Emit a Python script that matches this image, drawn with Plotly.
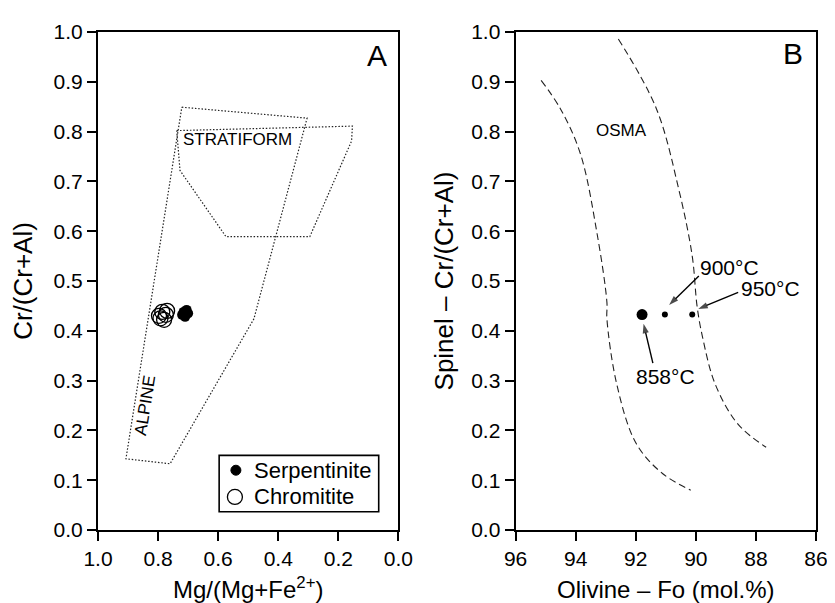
import plotly.graph_objects as go

# ---------------- data ----------------
# Panel A fields (Mg#, Cr#)
alpine_x = [0.721, 0.304, 0.481, 0.760, 0.907, 0.721]
alpine_y = [0.849, 0.827, 0.424, 0.133, 0.143, 0.849]
strat_x = [0.738, 0.153, 0.156, 0.295, 0.574, 0.727, 0.738]
strat_y = [0.802, 0.811, 0.781, 0.589, 0.589, 0.722, 0.802]

serp_x = [0.720, 0.715, 0.710, 0.705, 0.700, 0.712]
serp_y = [0.432, 0.438, 0.428, 0.442, 0.435, 0.436]
chrom_x = [0.797, 0.792, 0.786, 0.780, 0.774, 0.770]
chrom_y = [0.430, 0.425, 0.438, 0.422, 0.432, 0.440]

legend_names = ["Serpentinite", "Chromitite"]

# Panel B OSMA boundaries (Fo, Cr#)
osma_left_x = [95.15, 94.5, 93.84, 93.29, 92.96, 92.96, 92.63, 91.98, 91.10, 90.17]
osma_left_y = [0.903, 0.845, 0.755, 0.596, 0.457, 0.424, 0.292, 0.173, 0.113, 0.080]
osma_right_x = [92.58, 91.32, 90.56, 90.12, 89.96, 89.79, 89.35, 88.59, 87.66]
osma_right_y = [0.986, 0.847, 0.682, 0.550, 0.450, 0.391, 0.292, 0.212, 0.166]

sample_fo = [91.79]
sample_cr = [0.4325]
temp_fo = [91.03, 90.12]
temp_cr = [0.4325, 0.4325]

temp_labels = ["900°C", "950°C", "858°C"]
label_fo = [88.89, 87.52, 91.00]
label_cr = [0.528, 0.484, 0.3075]
arrow_tail_fo = [89.90, 88.59, 91.43]
arrow_tail_cr = [0.510, 0.477, 0.335]
arrow_tip_fo = [90.89, 89.92, 91.74]
arrow_tip_cr = [0.452, 0.444, 0.414]

FONT = "Liberation Sans, Arial, Helvetica, sans-serif"

fig = go.Figure()

poly_line = dict(color="#222222", width=1.2, dash="1.5px,1.8px")
fig.add_trace(go.Scatter(x=alpine_x, y=alpine_y, mode="lines", line=poly_line,
                         showlegend=False, hoverinfo="skip", xaxis="x", yaxis="y"))
fig.add_trace(go.Scatter(x=strat_x, y=strat_y, mode="lines", line=poly_line,
                         showlegend=False, hoverinfo="skip", xaxis="x", yaxis="y"))
fig.add_trace(go.Scatter(x=serp_x, y=serp_y, mode="markers", name=legend_names[0],
                         marker=dict(symbol="circle", size=10, color="black"),
                         showlegend=False, xaxis="x", yaxis="y"))
fig.add_trace(go.Scatter(x=chrom_x, y=chrom_y, mode="markers", name=legend_names[1],
                         marker=dict(symbol="circle-open", size=15, color="black",
                                     line=dict(width=1.3, color="black")),
                         showlegend=False, xaxis="x", yaxis="y"))

dash_line = dict(color="#222222", width=1.1, dash="7px,4px")
fig.add_trace(go.Scatter(x=osma_left_x, y=osma_left_y, mode="lines", line=dict(shape="spline", **dash_line),
                         showlegend=False, hoverinfo="skip", xaxis="x2", yaxis="y2"))
fig.add_trace(go.Scatter(x=osma_right_x, y=osma_right_y, mode="lines", line=dict(shape="spline", **dash_line),
                         showlegend=False, hoverinfo="skip", xaxis="x2", yaxis="y2"))
fig.add_trace(go.Scatter(x=sample_fo, y=sample_cr, mode="markers",
                         marker=dict(size=11, color="black"),
                         showlegend=False, xaxis="x2", yaxis="y2"))
fig.add_trace(go.Scatter(x=temp_fo, y=temp_cr, mode="markers",
                         marker=dict(size=6, color="black"),
                         showlegend=False, xaxis="x2", yaxis="y2"))

# arrows: line from tail to tip with an arrow-head marker oriented along the line
for i in range(len(temp_labels)):
    fig.add_trace(go.Scatter(
        x=[arrow_tail_fo[i], arrow_tip_fo[i]], y=[arrow_tail_cr[i], arrow_tip_cr[i]],
        mode="lines+markers", line=dict(color="black", width=1.4),
        marker=dict(symbol="arrow", size=[0, 10], angleref="previous", color="black",
                    line=dict(width=0)),
        showlegend=False, hoverinfo="skip", xaxis="x2", yaxis="y2"))

axis_common = dict(showline=True, linecolor="black", linewidth=2, mirror=True,
                   ticks="outside", ticklen=9, tickwidth=2, tickcolor="black",
                   showgrid=False, zeroline=False,
                   tickfont=dict(family=FONT, size=21, color="black"))
xtitle_font = dict(family=FONT, size=24, color="black")
ytitle_font = dict(family=FONT, size=26, color="black")

fig.update_layout(
    width=835, height=603,
    margin=dict(l=90, r=16, t=23, b=76),
    paper_bgcolor="white", plot_bgcolor="white",
    font=dict(family=FONT, color="black"),
    xaxis=dict(domain=[0, 0.4184], range=[1.0, 0.0], dtick=0.2, tickformat=".1f",
               title=dict(text="Mg/(Mg+Fe<sup>2+</sup>)", standoff=12, font=xtitle_font),
               anchor="y", **axis_common),
    yaxis=dict(domain=[0, 1], range=[0, 1.0], dtick=0.1, tickformat=".1f",
               title=dict(text="Cr/(Cr+Al)", standoff=15, font=ytitle_font),
               anchor="x", **axis_common),
    xaxis2=dict(domain=[0.5816, 1], range=[96, 86], dtick=2,
                title=dict(text="Olivine – Fo (mol.%)", standoff=12, font=xtitle_font),
                anchor="y2", **axis_common),
    yaxis2=dict(domain=[0, 1], range=[0, 1.0], dtick=0.1, tickformat=".1f",
                title=dict(text="Spinel – Cr/(Cr+Al)", standoff=10, font=ytitle_font),
                anchor="x2", **axis_common),
    showlegend=False,
)

# ---- legend box for panel A (drawn in axis-domain / pixel units) ----
shapes = [
    dict(type="rect", xref="x domain", yref="y domain",
         x0=(213 - 90) / 305, x1=(375 - 90) / 305, y0=(527 - 508.5) / 504, y1=(527 - 451.5) / 504,
         line=dict(color="black", width=1.6), fillcolor="white", layer="above"),
    dict(type="circle", xref="x domain", yref="y domain",
         xsizemode="pixel", ysizemode="pixel",
         xanchor=(230 - 90) / 305, yanchor=(527 - 466.5) / 504,
         x0=-5, x1=5, y0=-5, y1=5, fillcolor="black", line=dict(color="black", width=1),
         layer="above"),
    dict(type="circle", xref="x domain", yref="y domain",
         xsizemode="pixel", ysizemode="pixel",
         xanchor=(229 - 90) / 305, yanchor=(527 - 493.5) / 504,
         x0=-7.5, x1=7.5, y0=-7.5, y1=7.5, fillcolor="rgba(0,0,0,0)",
         line=dict(color="black", width=1.3), layer="above"),
]
fig.update_layout(shapes=shapes)

ann = []
ann.append(dict(text=legend_names[0], xref="x domain", yref="y domain",
                x=(246 - 90) / 305, y=(527 - 466.5) / 504, xanchor="left", yanchor="middle",
                showarrow=False, font=dict(size=22, family=FONT, color="black")))
ann.append(dict(text=legend_names[1], xref="x domain", yref="y domain",
                x=(246 - 90) / 305, y=(527 - 493.5) / 504, xanchor="left", yanchor="middle",
                showarrow=False, font=dict(size=22, family=FONT, color="black")))
ann.append(dict(text="A", xref="x domain", yref="y domain", x=0.928, y=0.952,
                xanchor="center", yanchor="middle",
                showarrow=False, font=dict(size=30, family=FONT, color="black")))
ann.append(dict(text="B", xref="x2 domain", yref="y2 domain", x=0.925, y=0.956,
                xanchor="center", yanchor="middle",
                showarrow=False, font=dict(size=30, family=FONT, color="black")))
ann.append(dict(text="STRATIFORM", xref="x", yref="y", x=0.535, y=0.784,
                showarrow=False, font=dict(size=17, family=FONT, color="black")))
ann.append(dict(text="ALPINE", xref="x", yref="y", x=0.845, y=0.249, textangle=-81,
                showarrow=False, font=dict(size=17, family=FONT, color="black")))
ann.append(dict(text="OSMA", xref="x2", yref="y2", x=92.47, y=0.802,
                showarrow=False, font=dict(size=17, family=FONT, color="black")))
for t, tx, ty in zip(temp_labels, label_fo, label_cr):
    ann.append(dict(text=t, xref="x2", yref="y2", x=tx, y=ty, showarrow=False,
                    font=dict(size=21, family=FONT, color="black")))
fig.update_layout(annotations=ann)

fig.write_html("out.html")
